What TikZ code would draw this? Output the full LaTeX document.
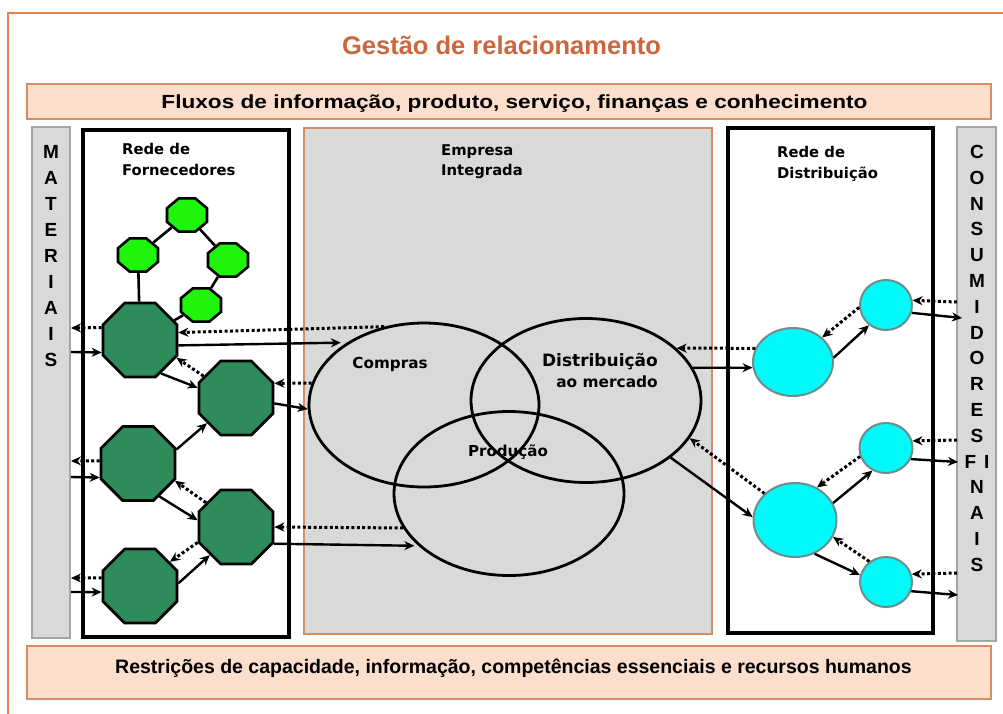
\documentclass[tikz,border=0pt]{standalone}
\usepackage{fontspec}
\setmainfont{Liberation Sans}
\newfontfamily\vfont{DejaVu Sans}
\newfontfamily\widefont[FakeStretch=1.19]{Liberation Sans}
\usetikzlibrary{shapes.geometric,arrows.meta}
\definecolor{frameor}{RGB}{226,130,86}
\definecolor{titleor}{RGB}{204,102,60}
\definecolor{bandfill}{RGB}{252,222,204}
\definecolor{bandline}{RGB}{214,140,100}
\definecolor{boxgray}{RGB}{217,217,217}
\definecolor{colline}{RGB}{165,165,165}
\definecolor{lgreen}{RGB}{30,245,10}
\definecolor{dgreen}{RGB}{46,140,90}
\definecolor{cyanfill}{RGB}{0,250,250}
\definecolor{cyanline}{RGB}{110,140,140}
\begin{document}
\begin{tikzpicture}[x=1pt,y=-1pt,
  band/.style={draw=bandline, fill=bandfill, line width=1.8pt, minimum width=964pt, inner sep=0pt},
  bandtext/.style={inner sep=0pt, text height=13.6pt, text depth=0pt},
  graycol/.style={draw=colline, fill=boxgray, line width=1.8pt, inner sep=0pt},
  netbox/.style={draw=black, line width=3.6pt, fill=white, inner sep=0pt},
  compbox/.style={draw=bandline, fill=boxgray, line width=1.8pt, inner sep=0pt},
  vletters/.style={font=\bfseries\fontsize{19}{26}\selectfont, align=center, inner sep=0pt, anchor=north},
  vtext/.style={font=\vfont\bfseries\fontsize{14.8}{21}\selectfont, inner sep=0pt},
  area/.style={ellipse, draw=black, line width=2.8pt, minimum width=230pt, minimum height=164pt, inner sep=0pt},
  darkoct/.style={regular polygon, regular polygon sides=8, minimum size=80pt, inner sep=0pt, draw=black, line width=2.8pt, fill=dgreen},
  lightoct/.style={regular polygon, regular polygon sides=8, minimum size=36pt, inner sep=0pt, draw=black, line width=2.6pt, fill=lgreen, xscale=1.2, transform shape},
  bigc/.style={ellipse, draw=cyanline, line width=2pt, fill=cyanfill, inner sep=0pt},
  sarrow/.style={line width=2.4pt, -{Stealth[length=10pt,width=9pt]}},
  darrow/.style={line width=3pt, dash pattern=on 3pt off 2.4pt, -{Stealth[length=10pt,width=9pt]}},
  link/.style={line width=2.6pt},
]
\useasboundingbox (0,0) rectangle (1003,713);
\fill[white] (0,0) rectangle (1003,713);
\draw[frameor, line width=2.2pt] (8,725) -- (8,13) -- (1015,13);

\node[font=\bfseries\fontsize{25.5}{30}\selectfont, text=titleor, inner sep=0pt, text height=18.3pt, text depth=0pt] (title) at (501.5,45) {Gestão de relacionamento};

\node[band, minimum height=35pt] (topband) at (509,101.5) {};
\node[bandtext, font=\widefont\bfseries\fontsize{19}{22}\selectfont] (fluxos) at (514.5,101.5) {Fluxos de informação, produto, serviço, finanças e conhecimento};
\node[band, minimum height=53pt] (botband) at (509,672.5) {};
\node[bandtext, font=\bfseries\fontsize{19.5}{22}\selectfont, text height=14pt] (restr) at (513.5,666) {Restrições de capacidade, informação, competências essenciais e recursos humanos};

\node[graycol, minimum width=38pt, minimum height=511pt] (matcol) at (51,382.5) {};
\node[graycol, minimum width=39pt, minimum height=514pt] (conscol) at (976.5,384) {};
\node[netbox, minimum width=206pt, minimum height=507pt] (forn) at (186,383.5) {};
\node[compbox, minimum width=408pt, minimum height=506pt] (emp) at (508,381) {};
\node[netbox, minimum width=205pt, minimum height=505pt] (distbox) at (830.5,380.5) {};

\node[vletters] (mat) at (51,145) {M\\A\\T\\E\\R\\I\\A\\I\\S};
\node[vletters, font=\bfseries\fontsize{19}{25.8}\selectfont] (cons) at (977,145) {C\\O\\N\\S\\U\\M\\I\\D\\O\\R\\E\\S\\F\hspace{8pt}I\\N\\A\\I\\S};

\node[vtext, anchor=base west] (fornl1) at (122,154.4) {Rede de};
\node[vtext, anchor=base west] (fornl2) at (122,175.4) {Fornecedores};
\node[vtext, anchor=base west] (empl1) at (441,155.4) {Empresa};
\node[vtext, anchor=base west] (empl2) at (441,175.4) {Integrada};
\node[vtext, anchor=base west] (distbl1) at (777,157.4) {Rede de};
\node[vtext, anchor=base west] (distbl2) at (777,178.4) {Distribuição};

\node[area] (compras) at (424,405) {};
\node[area] (distr) at (586,400.5) {};
\node[area] (prod) at (509,493.5) {};
\node[vtext, font=\vfont\bfseries\fontsize{15.2}{18}\selectfont, text height=11pt, text depth=0pt] (comprasl) at (390,363) {Compras};
\node[vtext, font=\vfont\bfseries\fontsize{17}{20}\selectfont, anchor=base east] (distl1) at (658,366.7) {Distribuição};
\node[vtext, font=\vfont\bfseries\fontsize{15.4}{18}\selectfont, anchor=base east] (distl2) at (658,387.2) {ao mercado};
\node[vtext, font=\vfont\bfseries\fontsize{15.1}{18}\selectfont, text height=11pt, text depth=0pt] (prodl) at (508,451) {Produção};

\begin{scope}[shift={(187,215)}]\node[lightoct] (L1) at (0,0) {};\end{scope}
\begin{scope}[shift={(138,255)}]\node[lightoct] (L2) at (0,0) {};\end{scope}
\begin{scope}[shift={(228,260)}]\node[lightoct] (L3) at (0,0) {};\end{scope}
\begin{scope}[shift={(201,305)}]\node[lightoct] (L4) at (0,0) {};\end{scope}

\node[darkoct] (D1) at (140,340) {};
\node[darkoct] (D2) at (236,398) {};
\node[darkoct] (D3) at (138,463.5) {};
\node[darkoct] (D4) at (236,527) {};
\node[darkoct] (D5) at (140,586) {};

\draw[link] (L1) -- (L2);
\draw[link] (L1) -- (L3);
\draw[link] (L3) -- (L4);
\draw[link] (L2) -- (D1);
\draw[link] (L4) -- (D1);

\node[bigc, minimum width=80pt, minimum height=68pt] (C1) at (793,362) {};
\node[bigc, minimum width=52pt, minimum height=50pt] (S1) at (886,305) {};
\node[bigc, minimum width=53pt, minimum height=50pt] (S2) at (886,448) {};
\node[bigc, minimum width=83pt, minimum height=74pt] (C2) at (795,520) {};
\node[bigc, minimum width=52pt, minimum height=50pt] (S3) at (886,582) {};

\coordinate (m1) at (71,328);
\coordinate (m2) at (71,352);
\coordinate (m3) at (71,461);
\coordinate (m4) at (71,477);
\coordinate (m5) at (71,578);
\coordinate (m6) at (71,592);
\coordinate (r1) at (957,302);
\coordinate (r2) at (962,318);
\coordinate (r3) at (957,440);
\coordinate (r4) at (958,462);
\coordinate (r5) at (957,573);
\coordinate (r6) at (958,595);

\draw[darrow] (D1.162) -- (m1);
\draw[sarrow] (m2) -- (D1.198);
\draw[darrow] (D3.176) -- (m3);
\draw[sarrow] (m4) -- (D3.200);
\draw[darrow] (D5.168) -- (m5);
\draw[sarrow] (m6) -- (D5.189);

\draw[darrow] (compras.117) -- (D1.11);
\draw[sarrow, shorten >=6pt] (D1.-8) -- (compras.141);
\draw[darrow] (compras.169) -- (D2.21);
\draw[sarrow] (D2.-8) -- (compras.182);
\draw[darrow] (prod.198) -- (D4.east);
\draw[sarrow, shorten >=4pt] (D4.-24) -- (prod.210);

\draw[darrow] (D2.146) -- (D1.-26);
\draw[sarrow] (D1.-58) -- (D2.165);
\draw[sarrow] (D3.20) -- (D2.221);
\draw[sarrow] (D3.-57) -- (D4.170);
\draw[darrow] (D4.141) -- (D3.-25);
\draw[darrow] (D4.202) -- (D5.39);
\draw[sarrow] (D5.4) -- (D4.227);

\draw[darrow] (C1.160) -- (distr.30);
\draw[sarrow] (distr.17) -- (C1.188);
\draw[darrow] (S1.185) -- (C1.40);
\draw[sarrow] (C1.6) -- (S1.230);
\draw[darrow] (r1) -- (S1.10);
\draw[sarrow] (S1.-17) -- (r2);
\draw[darrow] (C2.139) -- (distr.-20);
\draw[sarrow] (distr.-34) -- (C2.176);
\draw[darrow] (S2.198) -- (C2.56);
\draw[sarrow] (C2.24) -- (S2.239);
\draw[darrow] (S3.129) -- (C2.-24);
\draw[sarrow] (C2.-60) -- (S3.165);
\draw[darrow] (r3) -- (S2.15);
\draw[sarrow] (S2.-24) -- (r4);
\draw[darrow] (r5) -- (S3.17);
\draw[sarrow] (S3.-20) -- (r6);
\end{tikzpicture}
\end{document}
